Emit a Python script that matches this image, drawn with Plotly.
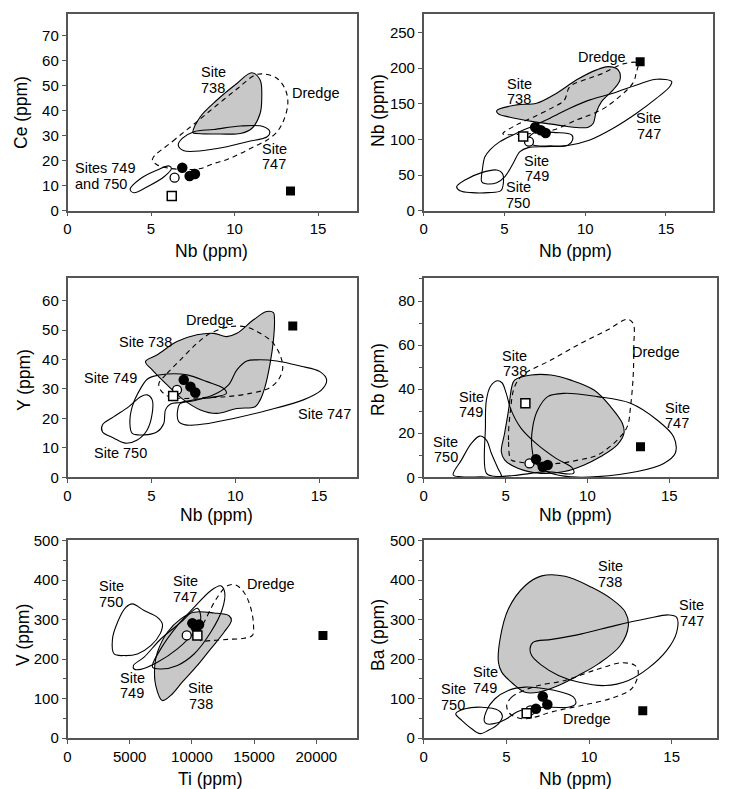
import plotly.graph_objects as go

# ---------------- data ----------------
# Panel 1: Ce vs Nb
p1_738_x = [7.51, 7.95, 8.95, 10.14, 11.03, 11.53, 11.63, 11.53, 11.03, 10.34, 9.15, 7.75]
p1_738_y = [31.2, 37.6, 44.3, 50.9, 55.2, 52.3, 45.6, 38.9, 32.9, 30.9, 30.7, 30.9]
p1_747_x = [6.63, 6.87, 7.57, 8.76, 10.36, 11.75, 12.11, 11.95, 10.76, 8.96, 6.97]
p1_747_y = [26.3, 28.9, 31.6, 32.5, 33.9, 33.6, 31.6, 29.6, 27.6, 24.9, 24.0]
p1_749_x = [3.75, 4.38, 5.38, 6.08, 6.22, 5.78, 4.78, 3.98]
p1_749_y = [8.5, 12.9, 16.3, 17.9, 16.9, 13.6, 9.6, 7.2]
p1_dr_x = [5.08, 6.3, 7.6, 8.9, 10.2, 11.2, 11.75, 12.55, 13.05, 13.19, 12.95, 12.55, 11.95, 11.16, 10.36, 9.56, 8.76, 7.97, 6.97, 6.18, 5.38]
p1_dr_y = [20.5, 27.8, 34.8, 42.0, 49.0, 54.2, 54.7, 52.9, 48.3, 42.9, 36.3, 31.6, 28.3, 25.6, 22.9, 20.5, 18.9, 16.9, 16.5, 16.9, 18.3]
p1_fc_x = [6.87, 7.31, 7.63]
p1_fc_y = [17.2, 13.9, 14.7]
p1_oc = (6.41, 13.2)
p1_os = (6.24, 5.9)
p1_fs = (13.35, 7.9)

# Panel 2: Nb(label) vs Nb
p2_738_x = [4.52, 5.75, 6.99, 8.23, 9.47, 10.7, 11.42, 12.04, 12.15, 11.73, 11.01, 10.66, 10.5, 10.19, 9.26, 8.23, 6.78, 5.34, 4.62]
p2_738_y = [140.4, 148.5, 150.8, 164.9, 183.6, 197.6, 202.2, 197.6, 183.6, 169.5, 153.1, 136.8, 122.7, 117.1, 117.1, 120.4, 125, 131.2, 135.8]
p2_747_x = [15.35, 14.42, 13.18, 11.73, 10.29, 9.05, 7.82, 6.78, 5.75, 4.72, 4.1, 3.79, 3.63, 3.59, 3.84, 4.52, 5.03, 5.54, 5.96, 6.47, 7.51, 8.75, 10.29, 11.73, 13.18, 14.42, 15.24]
p2_747_y = [181.2, 184.5, 176.5, 164.9, 155.5, 143.8, 129.8, 119, 108.7, 96.9, 85.3, 75.8, 57.2, 40.7, 37.9, 39.3, 47.8, 66.6, 82.9, 88.5, 89.9, 90.8, 99.3, 115.7, 136.8, 157.9, 174.2]
p2_749_x = [6.47, 6.78, 8.23, 9.16, 9.22, 8.95, 7.82, 6.78]
p2_749_y = [99.3, 108.7, 109.6, 106.3, 99.3, 92.3, 90.9, 92.3]
p2_750_x = [2.04, 2.56, 3.59, 4.52, 4.87, 4.93, 4.78, 4.0, 2.97, 2.25]
p2_750_y = [33.7, 43.1, 53.4, 57.1, 52.4, 38.4, 28.1, 25.3, 25.3, 28.1]
p2_dr_x = [4.9, 5.75, 6.78, 8.0, 8.7, 9.05, 10.09, 11.11, 12.35, 13.25, 13.15, 12.95, 11.32, 10.29, 9.47, 8.02, 6.5]
p2_dr_y = [108, 120.4, 131.2, 145, 155, 174.2, 184.5, 193, 206, 207, 193, 179, 146, 134.4, 127.4, 113.3, 108]
p2_fc_x = [6.9, 7.25, 7.55]
p2_fc_y = [117, 113, 109]
p2_oc = (6.52, 96.9)
p2_os = (6.16, 104)
p2_fs = (13.4, 209)

# Panel 3: Y vs Nb
p3_738_x = [4.65, 5.35, 6.53, 7.72, 8.71, 9.5, 10.1, 11.09, 11.88, 12.28, 12.34, 12.28, 12.08, 11.78, 11.49, 11.19, 10.1, 8.9, 7.92, 6.93, 5.94, 5.05]
p3_738_y = [39.3, 41.6, 46.1, 48.4, 48.9, 47.8, 48.9, 53.5, 56.3, 55.9, 53.5, 46.7, 38.7, 30.8, 26.3, 24, 23.4, 21.7, 22.9, 26.3, 31.4, 36.5]
p3_747_x = [6.73, 7.52, 8.71, 9.6, 10.1, 10.69, 11.29, 12.48, 13.86, 15.05, 15.45, 15.15, 14.06, 11.88, 9.9, 8.12, 7.03, 6.63, 6.57]
p3_747_y = [25.1, 26, 28, 31.4, 36.5, 39.5, 39.9, 39.5, 37.8, 35.9, 33.1, 29.7, 26.3, 22.7, 20, 18.1, 17.8, 18.9, 22.9]
p3_749_x = [5.05, 5.94, 7.13, 8.32, 9.31, 9.47, 8.91, 7.72, 6.73, 6.14, 5.84, 5.74, 5.35, 4.55, 3.86, 3.72, 3.86, 4.36, 4.75]
p3_749_y = [34.2, 35.1, 34.8, 32.5, 30.2, 28.5, 27.4, 26.5, 25.4, 24.9, 22.9, 18.3, 15.5, 14.4, 14.9, 18.3, 24, 30.2, 33.3]
p3_750_x = [2.08, 2.77, 3.66, 4.36, 4.75, 5.05, 5.05, 4.75, 4.16, 3.47, 2.77, 2.08]
p3_750_y = [17.8, 20.6, 24, 27.4, 28, 26.3, 21.7, 16.1, 12.7, 11.6, 13.3, 15.5]
p3_dr_x = [5.45, 5.94, 6.73, 7.72, 8.51, 9.7, 10.69, 11.49, 12.18, 12.67, 12.83, 12.57, 11.98, 10.89, 9.5, 8.12, 6.93, 6.04, 5.54]
p3_dr_y = [31.9, 35.3, 39.9, 45.5, 48.9, 51.2, 51, 48.9, 46.1, 41.6, 37, 33.1, 30.2, 28.5, 27.4, 27.1, 26.8, 27.4, 29.7]
p3_fc_x = [6.93, 7.33, 7.62]
p3_fc_y = [33.1, 30.8, 28.8]
p3_oc = (6.53, 29.7)
p3_os = (6.3, 27.6)
p3_fs = (13.43, 51.4)

# Panel 4: Rb vs Nb
p4_738_x = [5.55, 6.56, 7.77, 8.99, 10.4, 11.42, 12.13, 12.23, 11.82, 10.81, 9.8, 8.58, 7.17, 5.75, 4.94, 4.74, 4.94, 5.18, 5.38]
p4_738_y = [44.1, 46.4, 46.4, 44.1, 39.6, 32, 24.5, 20, 14.7, 9.4, 5.6, 2.6, 1.8, 4.1, 7.9, 11.6, 20, 30.5, 41.1]
p4_747_x = [7.57, 8.58, 10.61, 12.63, 14.25, 15.26, 15.36, 14.66, 13.04, 10.61, 8.99, 7.77, 6.86, 6.6, 6.66, 6.96]
p4_747_y = [36.6, 38.1, 36.6, 33.6, 26, 18.4, 10.9, 6.3, 2.6, 0.3, 0.2, 1.8, 6.3, 13.9, 23, 30.5]
p4_749_x = [3.83, 3.77, 3.83, 4.09, 4.49, 4.78, 5.04, 5.34, 5.95, 6.86, 8.08, 9.09, 9.15, 7.5, 5.5, 4.3]
p4_749_y = [1.8, 23, 35.1, 41.4, 43.8, 42.9, 38.1, 30.5, 22.2, 15.4, 8.6, 4.1, 1.8, 2.5, 0.8, 0.5]
p4_750_x = [1.8, 2.31, 2.91, 3.42, 3.83, 4.13, 4.53, 4.74, 3.5, 2.3]
p4_750_y = [1.1, 7.9, 15.4, 18.7, 16.9, 10.9, 4.1, 0.3, 0.2, 0.2]
p4_dr_x = [5.34, 5.18, 5.3, 5.55, 6.05, 7.77, 9.6, 11.21, 12.43, 12.79, 12.83, 12.79, 12.63, 12.43, 11.82, 10.61, 9.49, 8.18, 6.56, 5.75]
p4_dr_y = [7.9, 16.9, 30.5, 41.1, 46.4, 53.2, 60.8, 66.8, 71.7, 69.8, 59.3, 45.7, 32, 23, 16.9, 10.1, 7.9, 6.3, 6.3, 7.1]
p4_fc_x = [6.86, 7.27, 7.57]
p4_fc_y = [8.2, 4.8, 5.6]
p4_oc = (6.46, 6.3)
p4_os = (6.21, 33.6)
p4_fs = (13.24, 13.9)

# Panel 5: V vs Ti
p5_738_x = [7629, 7094, 7014, 7228, 8031, 9102, 10173, 11779, 12984, 13171, 12582, 11511, 10440, 9236, 8299]
p5_738_y = [95, 133, 184, 217.5, 268, 302, 319, 317, 310, 298, 268, 226, 184, 142, 108]
p5_747_x = [6826, 7496, 8834, 10173, 11511, 12314, 12635, 12448, 11511, 10173, 8834, 7496]
p5_747_y = [180, 226, 285, 331, 373.5, 386, 369, 327, 268, 213, 184, 175]
p5_749_x = [5300, 6157, 7496, 9102, 10440, 10708, 10173, 8834, 7228, 5889, 5354]
p5_749_y = [184, 205, 251, 293, 329, 302, 268, 226, 192, 174, 175]
p5_750_x = [3748, 3614, 4015, 4685, 5220, 6157, 7228, 7629, 7443, 6693, 5622, 4551]
p5_750_y = [213, 251, 293, 331, 340, 323, 306, 289, 264, 234, 213, 209]
p5_dr_x = [10574, 11243, 12047, 12850, 13519, 14188, 14670, 14937, 14857, 14188, 12850, 11511, 10708]
p5_dr_y = [260, 310, 357, 386, 388, 369, 336, 293, 260, 253, 250, 247, 247]
p5_fc_x = [10039, 10574, 10307]
p5_fc_y = [291, 287.5, 281]
p5_oc = (9584, 260)
p5_os = (10440, 260)
p5_fs = (20533, 260)

# Panel 6: Ba vs Nb
p6_738_x = [4.52, 4.62, 5.12, 6.13, 7.14, 8.55, 10.16, 11.37, 12.18, 12.38, 11.88, 10.56, 9.35, 8.15, 6.94, 6.13, 5.42, 4.72]
p6_738_y = [192, 251, 327, 386, 411, 410, 382, 352, 320, 285, 234, 188, 158.5, 133, 116, 116, 137, 167]
p6_747_x = [6.43, 6.63, 7.74, 9.56, 11.57, 13.59, 14.8, 15.3, 15.3, 14.7, 13.59, 12.38, 10.97, 9.35, 8.15, 7.14, 6.53]
p6_747_y = [226, 243, 250, 264, 285, 303.5, 312, 306, 268, 222, 177, 146, 133, 142, 158.5, 184, 209]
p6_749_x = [3.67, 3.81, 4.31, 5.12, 6.13, 7.34, 8.35, 9.05, 9.19, 8.75, 7.74, 6.53, 5.63, 5.02, 4.42, 3.81]
p6_749_y = [42, 70, 99.5, 120.6, 129, 125, 116, 104, 87, 78, 78, 76, 66, 49, 38, 36]
p6_750_x = [1.94, 2.5, 3.51, 4.52, 4.76, 4.52, 3.91, 3.41, 2.9, 2.3]
p6_750_y = [61.5, 74, 78, 70, 55.6, 36, 19.4, 11, 23.6, 44.7]
p6_dr_x = [5.02, 5.32, 5.93, 6.94, 8.55, 10.56, 11.98, 12.78, 12.98, 12.58, 11.37, 9.56, 7.74, 6.73, 5.93, 5.22]
p6_dr_y = [82.6, 103.7, 118, 133, 146, 175, 190.6, 184, 167, 125, 101, 82.6, 66, 53, 49, 61.5]
p6_fc_x = [7.2, 7.48, 6.79]
p6_fc_y = [105.4, 85, 74]
p6_oc = (6.45, 70)
p6_os = (6.23, 63)
p6_fs = (13.25, 69)

# labels: (text, x, y, anchor)
p1_labels = [("Site<br>738", 8.71, 52.3, "center"), ("Dredge", 14.87, 46.9, "center"),
             ("Site<br>747", 12.37, 21.6, "center"), ("Sites 749<br>and 750", 0.31, 13.9, "left")]
p2_labels = [("Dredge", 11.01, 215.4, "center"), ("Site<br>738", 5.9, 167, "center"), ("Site<br>747", 13.94, 119, "center"),
             ("Site<br>749", 6.99, 59.5, "center"), ("Site<br>750", 5.86, 22, "center")]
p3_labels = [("Dredge", 8.51, 53.5, "center"), ("Site 738", 4.65, 46.1, "center"), ("Site 749", 2.57, 33.6, "center"),
             ("Site 750", 3.17, 8.2, "center"), ("Site 747", 15.35, 21.5, "center")]
p4_labels = [("Site<br>738", 5.55, 51.7, "center"), ("Site<br>749", 2.91, 33.1, "center"), ("Site<br>750", 1.34, 12.7, "center"),
             ("Site<br>747", 15.47, 28, "center"), ("Dredge", 14.21, 57, "center")]
p5_labels = [("Site<br>750", 3534, 365, "center"), ("Site<br>747", 9450, 378, "center"), ("Dredge", 16330, 390, "center"),
             ("Site<br>749", 5220, 133, "center"), ("Site<br>738", 10708, 106, "center")]
p6_labels = [("Site<br>738", 11.27, 416, "center"), ("Site<br>747", 16.2, 317, "center"), ("Site<br>749", 3.71, 147, "center"),
             ("Site<br>750", 1.79, 104, "center"), ("Dredge", 9.86, 49, "center")]

x_titles = ["Nb (ppm)", "Nb (ppm)", "Nb (ppm)", "Nb (ppm)", "Ti (ppm)", "Nb (ppm)"]
y_titles = ["Ce (ppm)", "Nb (ppm)", "Y (ppm)", "Rb (ppm)", "V (ppm)", "Ba (ppm)"]

# ---------------- layout constants ----------------
OFF = 8                      # page body margin of the viewer
W, H = 729 - OFF, 789 - OFF  # figure size so that page px = figure px + OFF
FONT = "Liberation Sans, Arial, Helvetica, sans-serif"
FRAME = "#555555"
GRAY = "#c8c8c8"
# plot boxes in page px: left, right, top, bottom
BOX = {1: (67.5, 357, 14, 210.7), 2: (423.7, 713, 14, 210.7),
       3: (67.5, 357, 278.3, 477.3), 4: (423.7, 716.5, 278.3, 477.3),
       5: (67.5, 357, 540, 738), 6: (423.7, 716.5, 540, 738)}
AX = {1: dict(xr=[0, 17.33], xd=5, yr=[0, 78.7], yd=10, ym=None),
      2: dict(xr=[0, 17.91], xd=5, yr=[0, 276], yd=50, ym=None),
      3: dict(xr=[0, 17.26], xd=5, yr=[0, 67.6], yd=10, ym=None),
      4: dict(xr=[0, 17.88], xd=5, yr=[0, 90.3], yd=20, ym=10),
      5: dict(xr=[0, 23270], xd=5000, yr=[0, 502], yd=100, ym=50),
      6: dict(xr=[0, 17.71], xd=5, yr=[0, 502], yd=100, ym=50)}
XT_POS = {1: (211, 250.5), 2: (575, 250.5), 3: (216, 515), 4: (575, 515), 5: (210, 778.5), 6: (575, 778.5)}
YT_POS = {1: (21, 113), 2: (378, 111), 3: (24, 380), 4: (378, 380), 5: (23, 635), 6: (378, 635)}

panels = {
    1: dict(g=(p1_738_x, p1_738_y), lines=[(p1_747_x, p1_747_y), (p1_749_x, p1_749_y)], dr=(p1_dr_x, p1_dr_y),
            fc=(p1_fc_x, p1_fc_y), oc=p1_oc, os=p1_os, fs=p1_fs, labels=p1_labels),
    2: dict(g=(p2_738_x, p2_738_y), lines=[(p2_747_x, p2_747_y), (p2_749_x, p2_749_y), (p2_750_x, p2_750_y)], dr=(p2_dr_x, p2_dr_y),
            fc=(p2_fc_x, p2_fc_y), oc=p2_oc, os=p2_os, fs=p2_fs, labels=p2_labels),
    3: dict(g=(p3_738_x, p3_738_y), lines=[(p3_747_x, p3_747_y), (p3_749_x, p3_749_y), (p3_750_x, p3_750_y)], dr=(p3_dr_x, p3_dr_y),
            fc=(p3_fc_x, p3_fc_y), oc=p3_oc, os=p3_os, fs=p3_fs, labels=p3_labels),
    4: dict(g=(p4_738_x, p4_738_y), lines=[(p4_747_x, p4_747_y), (p4_749_x, p4_749_y), (p4_750_x, p4_750_y)], dr=(p4_dr_x, p4_dr_y),
            fc=(p4_fc_x, p4_fc_y), oc=p4_oc, os=p4_os, fs=p4_fs, labels=p4_labels),
    5: dict(g=(p5_738_x, p5_738_y), lines=[(p5_747_x, p5_747_y), (p5_749_x, p5_749_y), (p5_750_x, p5_750_y)], dr=(p5_dr_x, p5_dr_y),
            fc=(p5_fc_x, p5_fc_y), oc=p5_oc, os=p5_os, fs=p5_fs, labels=p5_labels),
    6: dict(g=(p6_738_x, p6_738_y), lines=[(p6_747_x, p6_747_y), (p6_749_x, p6_749_y), (p6_750_x, p6_750_y)], dr=(p6_dr_x, p6_dr_y),
            fc=(p6_fc_x, p6_fc_y), oc=p6_oc, os=p6_os, fs=p6_fs, labels=p6_labels),
}


def closed(xs, ys):
    return list(xs) + [xs[0]], list(ys) + [ys[0]]


def fx(px):
    return (px - OFF) / W


def fy(py):
    return 1 - (py - OFF) / H


fig = go.Figure()
annotations = []
layout_axes = {}
LINE = dict(color="black", width=1.1, shape="spline", smoothing=1.0)

for i, p in panels.items():
    sfx = "" if i == 1 else str(i)
    xa, ya = "x" + sfx, "y" + sfx
    # gray field (Site 738)
    gx, gy = closed(*p["g"])
    fig.add_trace(go.Scatter(x=gx, y=gy, xaxis=xa, yaxis=ya, mode="lines", fill="toself", fillcolor=GRAY,
                             line=LINE, hoverinfo="skip"))
    for lx, ly in p["lines"]:
        cx, cy = closed(lx, ly)
        fig.add_trace(go.Scatter(x=cx, y=cy, xaxis=xa, yaxis=ya, mode="lines", line=LINE, hoverinfo="skip"))
    dx, dy = closed(*p["dr"])
    fig.add_trace(go.Scatter(x=dx, y=dy, xaxis=xa, yaxis=ya, mode="lines",
                             line=dict(LINE, dash="5px,4px"), hoverinfo="skip"))
    # samples
    fig.add_trace(go.Scatter(x=[p["oc"][0]], y=[p["oc"][1]], xaxis=xa, yaxis=ya, mode="markers",
                             marker=dict(symbol="circle", size=9, color="white", line=dict(color="black", width=1.3))))
    fig.add_trace(go.Scatter(x=p["fc"][0], y=p["fc"][1], xaxis=xa, yaxis=ya, mode="markers",
                             marker=dict(symbol="circle", size=10.5, color="black", line=dict(width=0))))
    fig.add_trace(go.Scatter(x=[p["os"][0]], y=[p["os"][1]], xaxis=xa, yaxis=ya, mode="markers",
                             marker=dict(symbol="square", size=9, color="white", line=dict(color="black", width=1.5))))
    fig.add_trace(go.Scatter(x=[p["fs"][0]], y=[p["fs"][1]], xaxis=xa, yaxis=ya, mode="markers",
                             marker=dict(symbol="square", size=9, color="black", line=dict(width=0))))
    # text labels, each line placed separately for tight leading
    for text, tx, ty, anc in p["labels"]:
        parts = text.split("<br>")
        n = len(parts)
        for k, part in enumerate(parts):
            annotations.append(dict(x=tx, y=ty, xref=xa, yref=ya, text=part, showarrow=False,
                                    xanchor=anc, yanchor="middle", yshift=(n - 1) * 7.7 - k * 15.4,
                                    font=dict(size=14.5, color="black", family=FONT)))
    # axes
    l, r, t, b = BOX[i]
    a = AX[i]
    common = dict(showline=True, mirror=True, linecolor=FRAME, linewidth=1.5, ticks="outside", ticklen=4,
                  tickwidth=1, tickcolor=FRAME, showgrid=False, zeroline=False, fixedrange=True,
                  automargin=False, tickformat="d",
                  tickfont=dict(size=15, color="black", family=FONT))
    xaxis = dict(domain=[fx(l), fx(r)], range=a["xr"], dtick=a["xd"], tick0=0, anchor=ya, **common)
    yaxis = dict(domain=[fy(b), fy(t)], range=a["yr"], dtick=a["yd"], tick0=0, anchor=xa, **common)
    if a["ym"]:
        yaxis["minor"] = dict(dtick=a["ym"], tick0=0, ticks="outside", ticklen=3, tickcolor=FRAME, showgrid=False)
    layout_axes["xaxis" + sfx] = xaxis
    layout_axes["yaxis" + sfx] = yaxis
    # axis titles
    px_, py_ = XT_POS[i]
    annotations.append(dict(x=fx(px_), y=fy(py_), xref="paper", yref="paper", text=x_titles[i - 1],
                            showarrow=False, xanchor="center", yanchor="middle",
                            font=dict(size=17.5, color="black", family=FONT)))
    px_, py_ = YT_POS[i]
    annotations.append(dict(x=fx(px_), y=fy(py_), xref="paper", yref="paper", text=y_titles[i - 1],
                            showarrow=False, xanchor="center", yanchor="middle", textangle=-90,
                            font=dict(size=17.5, color="black", family=FONT)))

fig.update_layout(width=W, height=H, margin=dict(l=0, r=0, t=0, b=0, pad=0, autoexpand=False), showlegend=False,
                  paper_bgcolor="white", plot_bgcolor="white", annotations=annotations,
                  font=dict(family=FONT, color="black"), **layout_axes)

fig.write_html("out.html")
